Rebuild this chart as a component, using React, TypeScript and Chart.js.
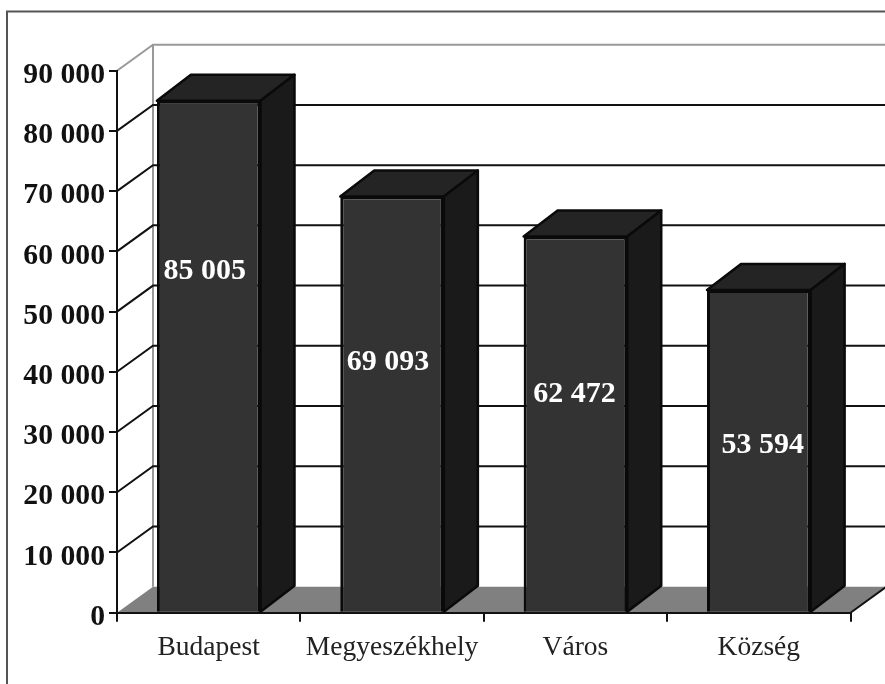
import React, { useEffect, useRef } from "react";
import { Chart, registerables } from "chart.js";

Chart.register(...registerables);

const categories = ["Budapest", "Megyeszékhely", "Város", "Község"];
const values = [85005, 69093, 62472, 53594];
const tickValues = [0, 10000, 20000, 30000, 40000, 50000, 60000, 70000, 80000, 90000];

const fmt = (v: number) => {
  const s = String(v);
  return s.length > 3 ? s.slice(0, -3) + " " + s.slice(-3) : s;
};

const depthX = 36;
const depthY = 26;
const barDepthX = 34;
const labelShift = [
  { dx: -4, dy: -85 },
  { dx: -4, dy: -42 },
  { dx: -1, dy: -30 },
  { dx: 4, dy: -6 },
];

const threeD = {
  id: "threeD",
  beforeDraw(chart: any) {
    const { ctx, chartArea: a, scales } = chart;
    const y = scales.y;
    const W = chart.width;
    ctx.save();
    ctx.fillStyle = "#fff";
    ctx.fillRect(0, 0, W, chart.height);
    // outer frame
    ctx.strokeStyle = "#555";
    ctx.lineWidth = 2;
    ctx.beginPath();
    ctx.moveTo(7, chart.height);
    ctx.lineTo(7, 11.5);
    ctx.lineTo(W, 11.5);
    ctx.stroke();
    // floor
    const y0 = y.getPixelForValue(0);
    ctx.fillStyle = "#808080";
    ctx.beginPath();
    ctx.moveTo(a.left, y0);
    ctx.lineTo(a.left + depthX, y0 - depthY);
    ctx.lineTo(a.right + depthX, y0 - depthY);
    ctx.lineTo(a.right, y0);
    ctx.closePath();
    ctx.fill();
    ctx.strokeStyle = "#111";
    ctx.beginPath();
    ctx.moveTo(a.right, y0);
    ctx.lineTo(a.right + depthX, y0 - depthY);
    ctx.stroke();
    // wall
    const yTop = y.getPixelForValue(90000);
    ctx.strokeStyle = "#999";
    ctx.beginPath();
    ctx.moveTo(a.left, yTop);
    ctx.lineTo(a.left + depthX, yTop - depthY);
    ctx.lineTo(W, yTop - depthY);
    ctx.moveTo(a.left + depthX, yTop - depthY);
    ctx.lineTo(a.left + depthX, y0 - depthY);
    ctx.stroke();
    // gridlines
    ctx.strokeStyle = "#111";
    for (const v of tickValues) {
      if (v === 0 || v === 90000) continue;
      const p = y.getPixelForValue(v);
      ctx.beginPath();
      ctx.moveTo(a.left, p);
      ctx.lineTo(a.left + depthX, p - depthY);
      ctx.lineTo(W, p - depthY);
      ctx.stroke();
    }
    ctx.restore();
  },
  beforeDatasetsDraw(chart: any) {
    const { ctx } = chart;
    const meta = chart.getDatasetMeta(0);
    ctx.save();
    ctx.lineWidth = 2.5;
    ctx.lineJoin = "round";
    ctx.strokeStyle = "#0a0a0a";
    meta.data.forEach((bar: any) => {
      const { x, y, base, width } = bar.getProps(["x", "y", "base", "width"], true);
      const l = x - width / 2;
      const r = x + width / 2;
      ctx.fillStyle = "#242424";
      ctx.beginPath();
      ctx.moveTo(l, y);
      ctx.lineTo(l + barDepthX, y - depthY);
      ctx.lineTo(r + barDepthX, y - depthY);
      ctx.lineTo(r, y);
      ctx.closePath();
      ctx.fill();
      ctx.stroke();
      ctx.fillStyle = "#1a1a1a";
      ctx.beginPath();
      ctx.moveTo(r, y);
      ctx.lineTo(r + barDepthX, y - depthY);
      ctx.lineTo(r + barDepthX, base - depthY);
      ctx.lineTo(r, base);
      ctx.closePath();
      ctx.fill();
      ctx.stroke();
    });
    ctx.restore();
  },
  afterDatasetsDraw(chart: any) {
    const { ctx } = chart;
    const meta = chart.getDatasetMeta(0);
    ctx.save();
    ctx.font = 'bold 30px "Liberation Serif"';
    ctx.fillStyle = "#fff";
    ctx.textAlign = "center";
    ctx.textBaseline = "middle";
    meta.data.forEach((bar: any, i: number) => {
      const { x, y, base } = bar.getProps(["x", "y", "base"], true);
      ctx.fillText(fmt(values[i]), x + labelShift[i].dx, (y + base) / 2 + labelShift[i].dy);
    });
    ctx.restore();
  },
};

export default function App() {
  const ref = useRef<HTMLCanvasElement>(null);
  useEffect(() => {
    const chart = new Chart(ref.current!, {
      type: "bar",
      data: {
        labels: categories,
        datasets: [
          {
            data: values,
            backgroundColor: "#333333",
            borderColor: "#0a0a0a",
            borderWidth: 3,
            barPercentage: 0.565,
            categoryPercentage: 1,
            clip: false,
          } as any,
        ],
      },
      options: {
        animation: false,
        responsive: false,
        devicePixelRatio: 1,
        layout: { padding: { left: 0, right: 34.5, top: 70.7, bottom: 0 } },
        plugins: { legend: { display: false }, tooltip: { enabled: false }, title: { display: false } },
        scales: {
          x: {
            afterFit: (s: any) => { s.height = 71.3; },
            grid: { drawOnChartArea: false, color: "#111", lineWidth: 2, tickLength: 9, offset: true },
            border: { color: "#111", width: 2 },
            ticks: {
              color: "#222",
              font: { family: "Liberation Serif", size: 27.5 },
              padding: 10,
              maxRotation: 0,
              autoSkip: false,
            },
          },
          y: {
            min: 0,
            max: 90000,
            afterFit: (s: any) => { s.width = 117; },
            grid: { drawOnChartArea: false, color: "#111", lineWidth: 2, tickLength: 8 },
            border: { color: "#111", width: 2 },
            afterBuildTicks: (s: any) => { s.ticks = tickValues.map((value) => ({ value })); },
            ticks: {
              color: "#111",
              font: { family: "Liberation Serif", size: 29.7, weight: "bold" },
              padding: 4,
              labelOffset: 4.5,
              callback: (v: any) => fmt(Number(v)),
            },
          },
        },
      } as any,
      plugins: [threeD],
    });
    return () => chart.destroy();
  }, []);
  return (
    <div style={{ position: "absolute", left: 0, top: 0, width: 885, height: 684 }}>
      <canvas ref={ref} width={885} height={684} style={{ display: "block" }} />
    </div>
  );
}
